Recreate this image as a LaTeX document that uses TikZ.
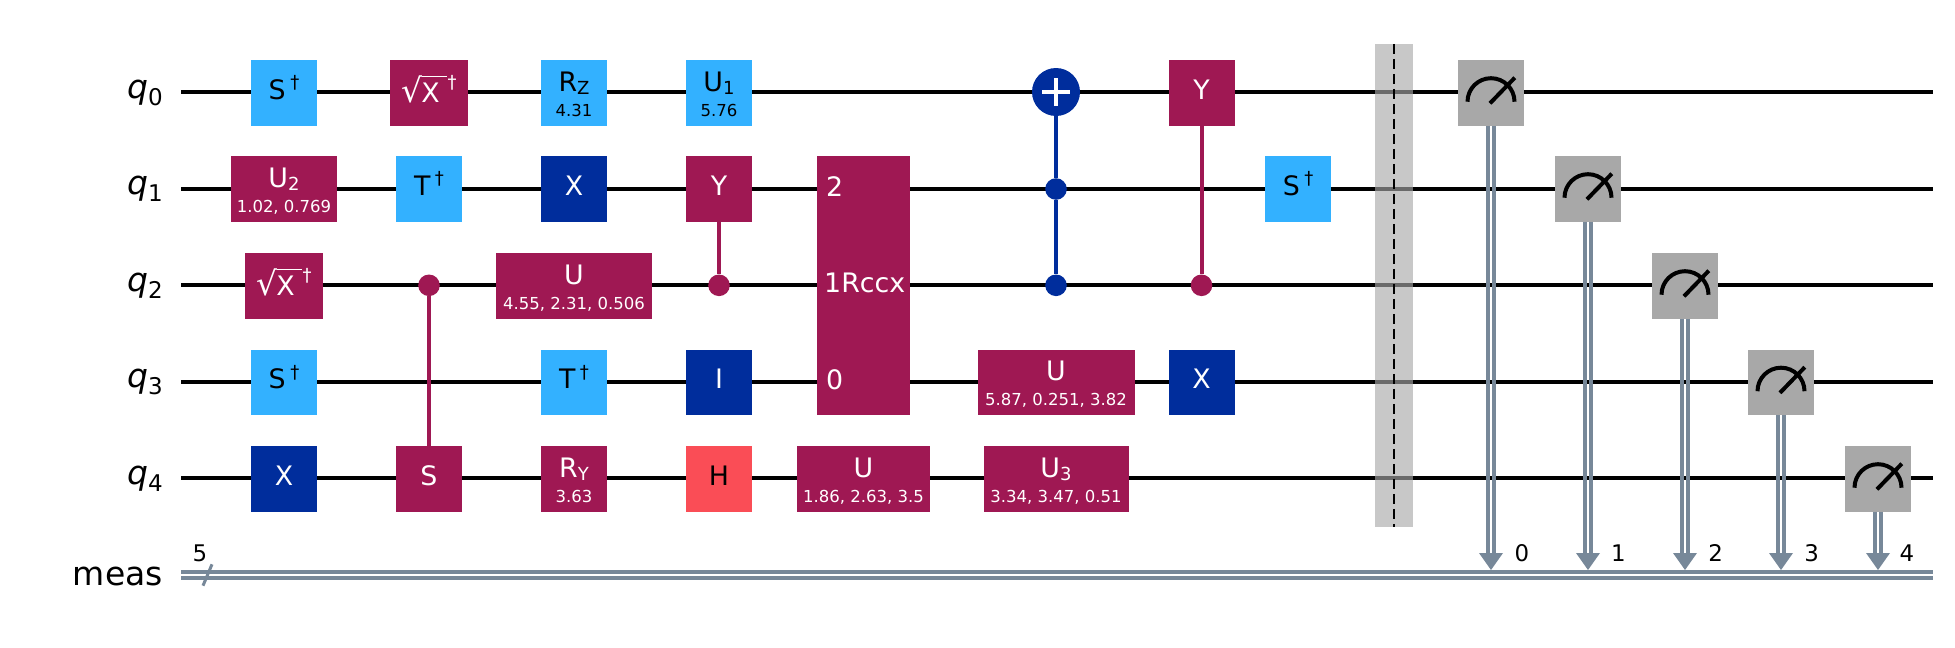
\documentclass[tikz,border=0pt]{standalone}
\usepackage{fontspec}
\setmainfont{DejaVu Sans}
\usetikzlibrary{positioning}
\definecolor{lblue}{HTML}{33B1FF}
\definecolor{navy}{HTML}{002D9C}
\definecolor{plum}{HTML}{9F1853}
\definecolor{coral}{HTML}{FA4D56}
\definecolor{slate}{HTML}{778899}
\definecolor{meter}{HTML}{A8A8A8}
\newcommand{\lowsub}[1]{\raisebox{-3.4pt}{\fontsize{18}{18}\selectfont #1}}
\newcommand{\hidag}{\kern4.5pt\raisebox{10.5pt}{\fontsize{18}{18}\selectfont †}}
\newcommand{\rootx}{\raisebox{-3pt}{{\fontsize{33}{33}\selectfont √}\rlap{\raisebox{25.5pt}{\rule{25pt}{1.2pt}}}\kern-1pt X\kern6.5pt}\kern-3pt\hidag}
\tikzset{
wire/.style={line width=4pt},
cwire/.style={line width=3.8pt,slate},
gate/.style={minimum width=66pt,minimum height=65.5pt,inner sep=0pt,text height=12.5pt,text depth=0pt,font=\fontsize{26.8}{30}\selectfont},
lgate/.style={gate,fill=lblue,text=black},
ngate/.style={gate,fill=navy,text=white},
pgate/.style={gate,fill=plum,text=white},
rgate/.style={gate,fill=coral,text=black},
mgate/.style={gate,fill=meter},
partop/.style={text height=0pt,text depth=4pt},
param/.style={anchor=base,inner sep=0pt,font=\fontsize{16.5}{18}\selectfont},
qlabel/.style={anchor=base east,inner sep=0pt,font=\fontsize{33}{36}\selectfont},
clabel/.style={anchor=base,inner sep=0pt,font=\fontsize{22.9}{24}\selectfont},
rlabel/.style={anchor=base west,inner sep=0pt,text=white,font=\fontsize{26.8}{30}\selectfont},
dot/.style={circle,inner sep=0pt,minimum size=21.6pt},
}
\begin{document}
\begin{tikzpicture}[x=1pt,y=-1pt]
\useasboundingbox (0,0) rectangle (1955,648);

\coordinate (w0) at (181,92); \coordinate (e0) at (1933,92);
\coordinate (w1) at (181,189); \coordinate (e1) at (1933,189);
\coordinate (w2) at (181,285.3); \coordinate (e2) at (1933,285.3);
\coordinate (w3) at (181,382); \coordinate (e3) at (1933,382);
\coordinate (w4) at (181,478); \coordinate (e4) at (1933,478);
\coordinate (cu) at (181,572); \coordinate (cue) at (1933,572);
\coordinate (cl) at (181,577.7); \coordinate (cle) at (1933,577.7);

\foreach \x in {0,1,2,3,4} {
\draw[wire] (w\x) -- (e\x);
\node (l\x) at (163,\x*96.5+98) [qlabel] {\textit{q}\raisebox{-7pt}{\fontsize{23}{23}\selectfont \x}};
}
\draw[cwire] (cu) -- (cue);
\draw[cwire] (cl) -- (cle);
\node (lm) at (163,585) [qlabel] {meas};
\node (ln) at (200,561.7) [clabel] {5};
\coordinate (s0) at (203,585.7);
\coordinate (s1) at (212,564.3);
\draw[slate,line width=3pt] (s0) -- (s1);

\node (g00) at (284,93) [lgate] {S\hidag};
\node (g01) at (284,189) [pgate,partop,minimum width=106pt] {U\lowsub{2}};
\node (p01) at ([yshift=-23pt]g01.center) [param,white] {1.02, 0.769};
\node (g02) at (284,286) [pgate,minimum width=78pt] {\rootx};
\node (g03) at (284,382.5) [lgate] {S\hidag};
\node (g04) at (284,479) [ngate] {X};

\node (g10) at (429,93) [pgate,minimum width=78pt] {\rootx};
\node (g11) at (429,189) [lgate] {T\hidag};
\node (d12) at (429,285.3) [dot,fill=plum] {};
\node (g14) at (429,479) [pgate] {S};
\draw[plum,wire] (d12) -- (g14);

\node (g20) at (574,93) [lgate,partop] {R\lowsub{Z}};
\node (p20) at ([yshift=-23pt]g20.center) [param,black] {4.31};
\node (g21) at (574,189) [ngate] {X};
\node (g22) at (574,286) [pgate,partop,minimum width=156pt] {U};
\node (p22) at ([yshift=-23pt]g22.center) [param,white] {4.55, 2.31, 0.506};
\node (g23) at (574,382.5) [lgate] {T\hidag};
\node (g24) at (574,479) [pgate,partop] {R\lowsub{Y}};
\node (p24) at ([yshift=-23pt]g24.center) [param,white] {3.63};

\node (g30) at (719,93) [lgate,partop] {U\lowsub{1}};
\node (p30) at ([yshift=-23pt]g30.center) [param,black] {5.76};
\node (g31) at (719,189) [pgate] {Y};
\node (d32) at (719,285.3) [dot,fill=plum] {};
\draw[plum,wire] (d32) -- (g31);
\node (g33) at (719,382.5) [ngate] {I};
\node (g34) at (719,479) [rgate] {H};

\node (rc) at (863.5,285.5) [pgate,minimum width=93pt,minimum height=259pt] {};
\node (r2) at (826,196.7) [rlabel] {2};
\node (r1) at (824,292.7) [rlabel] {1Rccx};
\node (r0) at (826,389) [rlabel] {0};
\node (g44) at (863.5,479) [pgate,partop,minimum width=133pt] {U};
\node (p44) at ([yshift=-23pt]g44.center) [param,white] {1.86, 2.63, 3.5};

\node (t50) at (1056,92) [circle,inner sep=0pt,minimum size=48pt,fill=navy] {};
\node (d51) at (1056,189) [dot,fill=navy] {};
\node (d52) at (1056,285.3) [dot,fill=navy] {};
\draw[navy,wire] (t50) -- (d51);
\draw[navy,wire] (d51) -- (d52);
\draw[white,line width=4.4pt] ([xshift=-14pt]t50.center) -- ([xshift=14pt]t50.center);
\draw[white,line width=4.4pt] ([yshift=-14pt]t50.center) -- ([yshift=14pt]t50.center);
\node (g53) at (1056,382.5) [pgate,partop,minimum width=157pt] {U};
\node (p53) at ([yshift=-23pt]g53.center) [param,white] {5.87, 0.251, 3.82};
\node (g54) at (1056,479) [pgate,partop,minimum width=145pt] {U\lowsub{3}};
\node (p54) at ([yshift=-23pt]g54.center) [param,white] {3.34, 3.47, 0.51};

\node (g60) at (1201.5,93) [pgate] {Y};
\node (d62) at (1201.5,285.3) [dot,fill=plum] {};
\draw[plum,wire] (g60) -- (d62);
\node (g63) at (1201.5,382.5) [ngate] {X};
\node (g71) at (1298,189) [lgate] {S\hidag};

\node (bar) at (1394,285.5) [minimum width=38pt,minimum height=483pt,inner sep=0pt,fill=meter,fill opacity=0.63] {};
\draw[line width=2.2pt,dash pattern=on 10pt off 5pt] (bar.north) -- (bar.south);

\foreach \x/\c/\y/\n in {0/1491/93/1522,1/1588/189/1618.4,2/1685/286/1715.6,3/1781/382.5/1811.6,4/1878/479/1907} {
\node (m\x) at (\c,\y) [mgate] {};
\draw[line width=4pt] ([shift={(-23.5,8.7)}]m\x.center) arc[start angle=180,end angle=0,radius=23.5pt];
\draw[line width=4pt] ([shift={(-1,10.3)}]m\x.center) -- ([shift={(23.8,-15.3)}]m\x.center);
\coordinate (a\x) at (\c,570);
\draw[cwire] ([xshift=-2.8pt]m\x.south) -- ([xshift=-2.8pt,yshift=14pt]a\x);
\draw[cwire] ([xshift=2.8pt]m\x.south) -- ([xshift=2.8pt,yshift=14pt]a\x);
\fill[slate] (a\x) -- ++(-12,-17) -- ++(24,0) -- cycle;
\node (n\x) at (\n,561.7) [clabel] {\x};
}
\end{tikzpicture}
\end{document}
